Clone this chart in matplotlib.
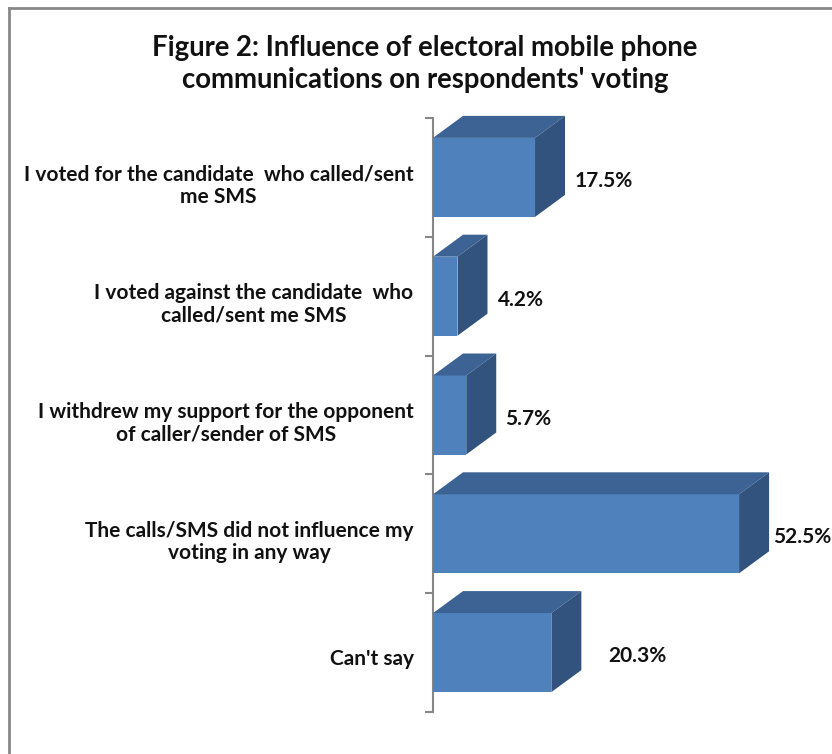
import matplotlib
matplotlib.use('Agg')
import matplotlib.pyplot as plt
from matplotlib.patches import Polygon
import numpy as np

plt.rcParams['font.family'] = ['Lato', 'DejaVu Sans']

# data
categories = [
    "I voted for the candidate  who called/sent\nme SMS",
    "I voted against the candidate  who\ncalled/sent me SMS",
    "I withdrew my support for the opponent\nof caller/sender of SMS",
    "The calls/SMS did not influence my\nvoting in any way",
    "Can't say",
]
values = [17.5, 4.2, 5.7, 52.5, 20.3]
value_labels = ["17.5%", "4.2%", "5.7%", "52.5%", "20.3%"]
title = "Figure 2: Influence of electoral mobile phone\ncommunications on respondents' voting"

# styling
front_col = '#4F81BD'
top_col = '#3C6393'
side_col = '#31537D'
px_per_pct = 5.83
depth_x = 30 / px_per_pct      # in % units
depth_y = 22 / 118.8           # in category units
bar_h = 0.665
label_pad_px = [10, 10, 9, 4, 27]

W, H = 832, 754
fig = plt.figure(figsize=(W / 100, H / 100), dpi=100)
fig.patch.set_facecolor('white')

# chart frame (only left and top visible in the crop)
fig.add_artist(plt.Line2D([9 / W, 9 / W], [0, 1 - 8 / H], color='#888888', lw=2))
fig.add_artist(plt.Line2D([9 / W, 1], [1 - 8 / H, 1 - 8 / H], color='#888888', lw=2))

ax_l, ax_t, ax_b = 433, 118, 712
ax = fig.add_axes([ax_l / W, 1 - ax_b / H, (W - ax_l) / W, (ax_b - ax_t) / H])
ax.set_xlim(0, (W - ax_l) / px_per_pct)
ax.set_ylim(len(values) - 0.5, -0.5)

y = np.arange(len(values))
ax.barh(y, values, height=bar_h, color=front_col, edgecolor='none', zorder=3)

for i, v in enumerate(values):
    yt = i - bar_h / 2
    yb = i + bar_h / 2
    top = Polygon([(0, yt), (v, yt), (v + depth_x, yt - depth_y), (depth_x, yt - depth_y)],
                  closed=True, facecolor=top_col, edgecolor='none', clip_on=False, zorder=3)
    side = Polygon([(v, yt), (v + depth_x, yt - depth_y), (v + depth_x, yb - depth_y), (v, yb)],
                   closed=True, facecolor=side_col, edgecolor='none', clip_on=False, zorder=3)
    ax.add_patch(top)
    ax.add_patch(side)
    ax.text(v + depth_x + label_pad_px[i] / px_per_pct, i + 0.03, value_labels[i],
            ha='left', va='center', fontsize=15, fontweight='bold', color='#111111',
            clip_on=False)

for s in ['top', 'right', 'bottom']:
    ax.spines[s].set_visible(False)
ax.spines['left'].set_color('#868686')
ax.spines['left'].set_linewidth(1.5)
ax.set_xticks([])

ax.set_yticks(np.arange(len(values) + 1) - 0.5)
ax.set_yticklabels([])
ax.tick_params(axis='y', which='major', direction='out', length=6, width=1.5, color='#868686')
ax.set_yticks(y + 0.04, minor=True)
ax.set_yticklabels(categories, minor=True, fontsize=15, fontweight='bold',
                   multialignment='center', color='#111111', linespacing=1.15)
ax.tick_params(axis='y', which='minor', length=0, pad=14)

fig.text(425 / W, 1 - 64 / H, title, ha='center', va='center', fontsize=19.8,
         fontweight='bold', linespacing=1.3, color='#111111')

fig.savefig('out.png', dpi=100)
